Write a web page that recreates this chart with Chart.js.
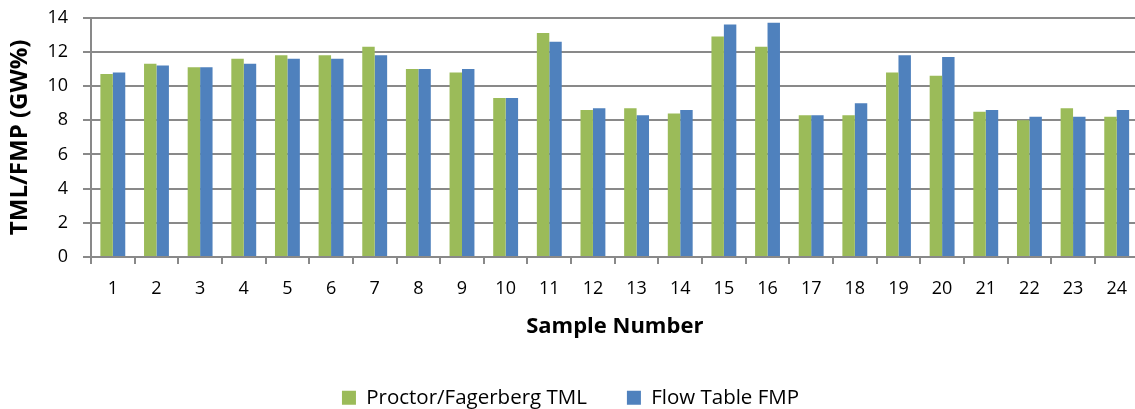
<!DOCTYPE html>
<html>
<head>
<meta charset="utf-8">
<title>TML / FMP by sample</title>
<script src="https://cdn.jsdelivr.net/npm/chart.js@4/dist/chart.umd.min.js"></script>
<style>
  html, body { margin: 0; padding: 0; background: #fff; overflow: hidden; }
  #wrap { width: 1135px; height: 409px; overflow: hidden; }
  canvas { display: block; }
</style>
</head>
<body>
<div id="wrap"><canvas id="chart" width="1141" height="409"></canvas></div>
<script>
// Sample numbers along the x axis
const samples = ['1','2','3','4','5','6','7','8','9','10','11','12','13','14','15','16','17','18','19','20','21','22','23','24'];

// Transportable moisture limit from the Proctor/Fagerberg test (GW%)
const proctorTML = [10.7, 11.3, 11.1, 11.6, 11.8, 11.8, 12.3, 11.0, 10.8, 9.3, 13.1, 8.6, 8.7, 8.4, 12.9, 12.3, 8.3, 8.3, 10.8, 10.6, 8.5, 8.0, 8.7, 8.2];

// Flow moisture point from the flow table test (GW%)
const flowTableFMP = [10.8, 11.2, 11.1, 11.3, 11.6, 11.6, 11.8, 11.0, 11.0, 9.3, 12.6, 8.7, 8.3, 8.6, 13.6, 13.7, 8.3, 9.0, 11.8, 11.7, 8.6, 8.2, 8.2, 8.6];

// Value axis ticks
const yTicks = [0, 2, 4, 6, 8, 10, 12, 14];

const seriesNames = ['Proctor/Fagerberg TML', 'Flow Table FMP'];

const FONT = 'Open Sans';
const AXIS_GREY = '#898989';

// Keep the legend strip compact while leaving wide spacing between its items
const legendHeight = {
  id: 'legendHeight',
  beforeLayout(chart) {
    const lg = chart.legend;
    if (lg && !lg._fixedHeight) {
      const fit = lg.fit.bind(lg);
      lg.fit = function () { fit(); this.height = 61.5; };
      lg._fixedHeight = true;
    }
  }
};

new Chart(document.getElementById('chart'), {
  type: 'bar',
  data: {
    labels: samples,
    datasets: [
      { label: seriesNames[0], data: proctorTML, backgroundColor: '#9BBB59' },
      { label: seriesNames[1], data: flowTableFMP, backgroundColor: '#4F81BD' }
    ]
  },
  plugins: [legendHeight],
  options: {
    responsive: false,
    animation: false,
    devicePixelRatio: 1,
    layout: { padding: { top: 17.7, left: 0, right: 0, bottom: 0 } },
    datasets: { bar: { categoryPercentage: 0.57, barPercentage: 1.0 } },
    plugins: {
      tooltip: { enabled: false },
      legend: {
        position: 'bottom',
        labels: {
          color: '#000',
          font: { family: FONT, size: 20.5 },
          boxWidth: 14,
          boxHeight: 14,
          padding: 40
        }
      }
    },
    scales: {
      x: {
        offset: true,
        grid: {
          offset: true,
          drawOnChartArea: false,
          color: AXIS_GREY,
          lineWidth: 2,
          tickLength: 7
        },
        border: { color: AXIS_GREY, width: 2 },
        ticks: {
          color: '#000',
          font: { family: FONT, size: 18 },
          padding: 14,
          maxRotation: 0,
          autoSkip: false
        },
        title: {
          display: true,
          text: 'Sample Number',
          color: '#000',
          font: { family: FONT, size: 22, weight: 'bold' },
          padding: { top: 4, bottom: 8 }
        },
        afterFit: (scale) => { scale.height = 90.5; }
      },
      y: {
        min: 0,
        max: 14,
        afterBuildTicks: (scale) => { scale.ticks = yTicks.map(v => ({ value: v })); },
        grid: {
          color: AXIS_GREY,
          lineWidth: 2,
          tickLength: 8
        },
        border: { color: AXIS_GREY, width: 2 },
        ticks: {
          color: '#000',
          font: { family: FONT, size: 18 },
          padding: 15
        },
        title: {
          display: true,
          text: 'TML/FMP (GW%)',
          color: '#000',
          font: { family: FONT, size: 24, weight: 'bold' },
          padding: { top: 6, bottom: 4 }
        },
        afterFit: (scale) => {
          scale.width = 91;
          scale.paddingTop = 0;
          scale.paddingBottom = 0;
        }
      }
    }
  }
});
</script>
</body>
</html>
